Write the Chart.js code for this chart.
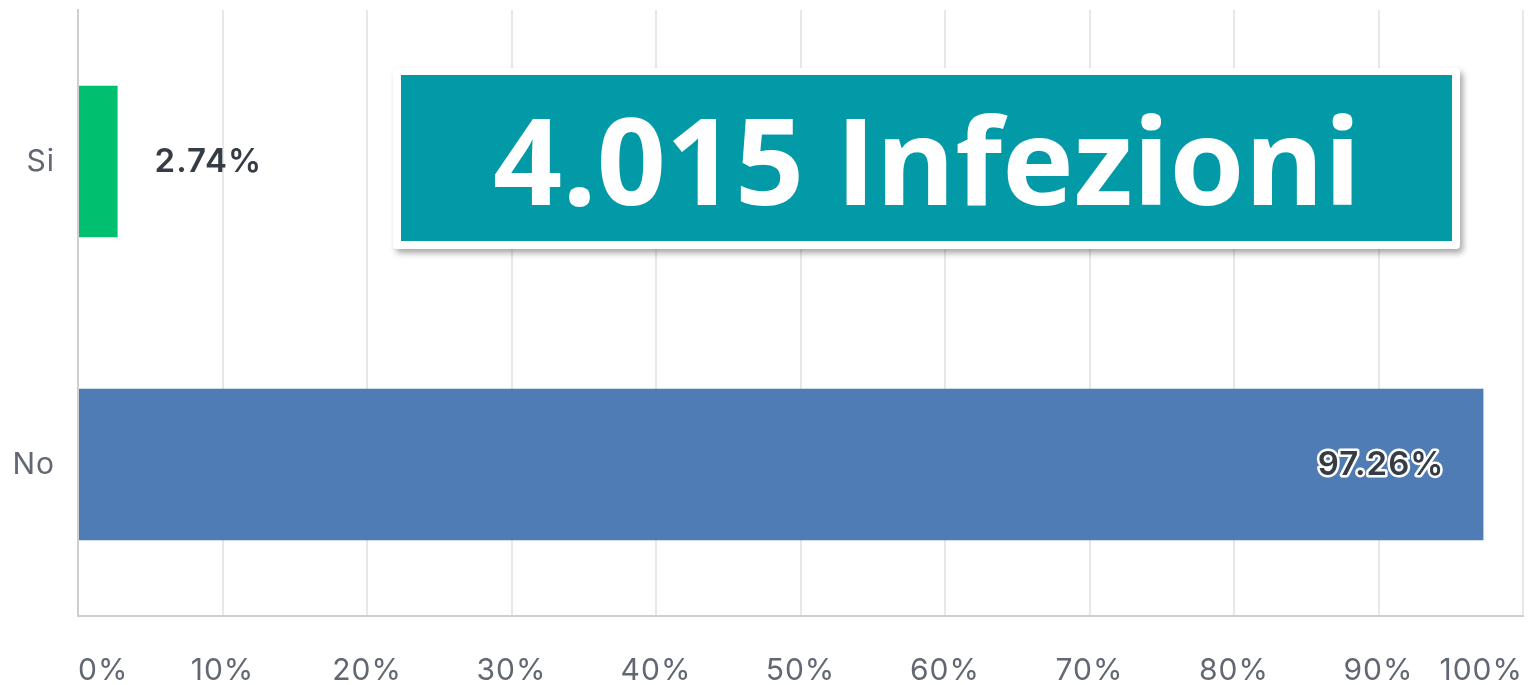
<!DOCTYPE html>
<html>
<head>
<meta charset="utf-8">
<script src="https://cdn.jsdelivr.net/npm/chart.js@4.4.0/dist/chart.umd.min.js"></script>
<style>
  html, body { margin: 0; padding: 0; background: #fff; }
  #wrap { width: 1528px; height: 685px; position: relative; }
</style>
</head>
<body>
<div id="wrap"><canvas id="chart"></canvas></div>
<script>
const categories = ['Si', 'No'];
const values = [2.74, 97.26];
const barColors = ['#00bf6f', '#507cb6'];
const tickValues = [0, 10, 20, 30, 40, 50, 60, 70, 80, 90, 100];
const bannerText = '4.015 Infezioni';

const labelFont = 'Inter, "Noto Sans", sans-serif';

// slightly wider letter spacing for the axis text, like the original
const spacing = {
    id: 'spacing',
    beforeInit(chart) { chart.ctx.letterSpacing = '1px'; },
    beforeDraw(chart) { chart.ctx.letterSpacing = '1px'; }
};

// Percent labels: outside for the short bar, inside (with white halo) for the long one
const valueLabels = {
    id: 'valueLabels',
    afterDatasetsDraw(chart) {
        const ctx = chart.ctx;
        const meta = chart.getDatasetMeta(0);
        ctx.save();
        ctx.textBaseline = 'middle';
        ctx.letterSpacing = '1px';
        ctx.font = '600 33px ' + labelFont;
        meta.data.forEach((bar, i) => {
            const text = values[i].toFixed(2) + '%';
            if (values[i] < 50) {
                ctx.textAlign = 'left';
                ctx.fillStyle = '#363c46';
                ctx.fillText(text, bar.x + 37, bar.y + 1);
            } else {
                ctx.textAlign = 'right';
                ctx.lineWidth = 5;
                ctx.strokeStyle = '#ffffff';
                ctx.lineJoin = 'round';
                ctx.strokeText(text, bar.x - 39, bar.y + 1);
                ctx.fillStyle = '#363c46';
                ctx.fillText(text, bar.x - 39, bar.y + 1);
            }
        });
        ctx.restore();
    }
};

// Teal banner laid over the chart
const banner = {
    id: 'banner',
    afterDraw(chart) {
        const ctx = chart.ctx;
        ctx.save();
        ctx.shadowColor = 'rgba(0,0,0,0.35)';
        ctx.shadowBlur = 6;
        ctx.shadowOffsetX = 3;
        ctx.shadowOffsetY = 4;
        ctx.fillStyle = '#ffffff';
        ctx.beginPath();
        ctx.roundRect(393, 68, 1067, 181, 4);
        ctx.fill();
        ctx.restore();

        ctx.save();
        ctx.letterSpacing = '0px';
        ctx.fillStyle = '#039aa8';
        ctx.fillRect(401, 75, 1051, 166);
        ctx.fillStyle = '#ffffff';
        ctx.font = 'bold 121px "Open Sans", sans-serif';
        ctx.textAlign = 'center';
        ctx.textBaseline = 'alphabetic';
        ctx.fillText(bannerText, 927, 205);
        ctx.restore();
    }
};

const noPadding = scale => {
    scale.paddingTop = 0;
    scale.paddingBottom = 0;
    scale.paddingLeft = 0;
    scale.paddingRight = 0;
};

new Chart(document.getElementById('chart'), {
    type: 'bar',
    data: {
        labels: categories,
        datasets: [{
            data: values,
            backgroundColor: barColors,
            borderWidth: 0,
            categoryPercentage: 0.5,
            barPercentage: 1
        }]
    },
    options: {
        indexAxis: 'y',
        responsive: true,
        maintainAspectRatio: false,
        animation: false,
        layout: { padding: { top: 10, right: 5, left: 0, bottom: 0 } },
        plugins: {
            legend: { display: false },
            tooltip: { enabled: false }
        },
        scales: {
            x: {
                min: 0,
                max: 100,
                afterBuildTicks: scale => {
                    scale.ticks = tickValues.map(v => ({ value: v }));
                },
                afterFit: scale => { scale.height = 69; noPadding(scale); },
                ticks: {
                    align: 'inner',
                    padding: 37,
                    color: '#626873',
                    font: { family: labelFont, size: 30 },
                    callback: v => v + '%'
                },
                grid: { color: '#e8e8e8', lineWidth: 2, drawTicks: false },
                border: { color: '#cfcfcf', width: 2 }
            },
            y: {
                afterFit: scale => { scale.width = 78; noPadding(scale); },
                ticks: {
                    padding: 23,
                    color: '#626873',
                    font: { family: labelFont, size: 30 }
                },
                grid: { display: false, drawTicks: false },
                border: { color: '#cfcfcf', width: 2 }
            }
        }
    },
    plugins: [spacing, valueLabels, banner]
});
</script>
</body>
</html>
